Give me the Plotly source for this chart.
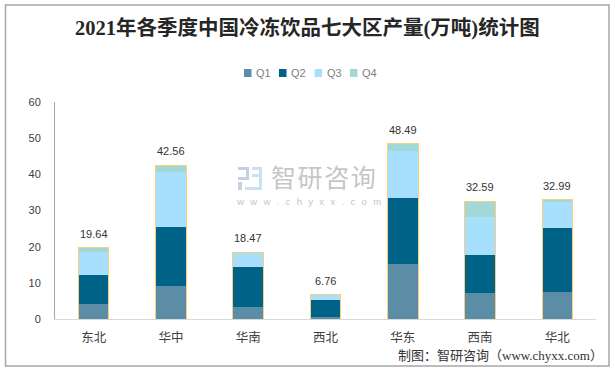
import plotly.graph_objects as go

categories = ["东北", "华中", "华南", "西北", "华东", "西南", "华北"]
q1 = [4.2, 9.2, 3.4, 0.65, 15.3, 7.27, 7.55]
q2 = [8.0, 16.3, 11.05, 4.7, 18.2, 10.5, 17.7]
q3 = [6.35, 15.2, 3.9, 1.35, 13.0, 10.5, 7.2]
q4 = [1.09, 1.86, 0.12, 0.06, 1.99, 4.32, 0.54]
totals = [19.64, 42.56, 18.47, 6.76, 48.49, 32.59, 32.99]
series_names = ["Q1", "Q2", "Q3", "Q4"]
series_colors = ["#5B8DA6", "#006287", "#A6E0FC", "#A2D9D6"]

W, H = 615, 371
L, R, T, B = 55, 596, 102, 319
CJK = "Noto Sans CJK SC"
TICK = "#404040"

fig = go.Figure()
for name, vals, col in zip(series_names, [q1, q2, q3, q4], series_colors):
    fig.add_bar(x=categories, y=vals, name=name, marker=dict(color=col, line_width=0),
                width=0.39, xaxis="x", yaxis="y", showlegend=False)
fig.add_bar(x=categories, y=totals, showlegend=False, width=0.395, xaxis="x", yaxis="y2",
            marker=dict(color="rgba(0,0,0,0)", line=dict(color="#F8CF7E", width=1)))

def px(x): return (x - L) / (R - L)
def py(y): return (B - y) / (B - T)

gap = "\u2002\u200a\u200a"
ann = [
    dict(text="<b>2021年各季度中国冷冻饮品七大区产量(万吨)统计图</b>", x=px(307.5), y=py(28),
         font=dict(family="Liberation Serif, " + CJK, size=20.5, color="#262626")),
    dict(text="智\u200a研\u200a咨\u200a询", x=px(323), y=py(176), font=dict(family=CJK, size=25, color="#C4C6C9")),
    dict(text=gap.join("www.chyxx.com"),
         x=px(308), y=py(201), font=dict(family="Liberation Sans", size=9.5, color="#C4C6C9")),
    dict(text="制图：智研咨询（www.chyxx.com）", x=px(605), y=py(355), xanchor="right",
         font=dict(family="Liberation Serif, " + CJK, size=13, color="#333333")),
]
legend_swatch_x = [244, 279, 314.5, 350]
for name, sx in zip(series_names, legend_swatch_x):
    ann.append(dict(text=name, x=px(sx + 10), y=py(73), xanchor="left",
                    font=dict(family="Liberation Sans", size=11, color="#7F7F7F")))
for a in ann:
    a.update(xref="paper", yref="paper", showarrow=False)
    a.setdefault("xanchor", "center")
    a.setdefault("yanchor", "middle")
for cat, tot in zip(categories, totals):
    ann.append(dict(text=f"{tot:.2f}", x=cat, y=tot, xref="x", yref="y", showarrow=False,
                    yshift=14, yanchor="middle", xanchor="center",
                    font=dict(family="Liberation Sans", size=11, color="#333333")))

def rect(x0, y0, x1, y1, color):
    return dict(type="rect", xref="paper", yref="paper", x0=px(x0), x1=px(x1), y0=py(y0), y1=py(y1),
                fillcolor=color, line_width=0, layer="below")

LOGO1, LOGO2 = "#C5D0E3", "#C9E2F3"
shapes = [
    dict(type="rect", xref="paper", yref="paper", x0=px(5.5), x1=px(609), y0=py(5), y1=py(366),
         line=dict(color="#A6A6A6", width=1.5), fillcolor="rgba(0,0,0,0)", layer="below"),
    rect(238, 167, 249, 170, LOGO1), rect(246, 167, 249, 180, LOGO1), rect(238, 177, 249, 180, LOGO1),
    rect(238, 182, 242, 190, LOGO1),
    rect(252, 167, 262, 170, LOGO2), rect(252, 174, 262, 177, LOGO2), rect(259, 167, 262, 190, LOGO2),
    rect(245, 187, 262, 190, LOGO2),
]
for col, sx in zip(series_colors, legend_swatch_x):
    shapes.append(rect(sx, 69, sx + 7.5, 77, col))

fig.update_layout(
    width=W, height=H, autosize=False, barmode="stack", bargap=0.6,
    paper_bgcolor="white", plot_bgcolor="rgba(0,0,0,0)",
    margin=dict(l=L, r=W - R, t=T, b=H - B, pad=0),
    showlegend=False,
    xaxis=dict(type="category", categoryorder="array", categoryarray=categories, showgrid=False,
               showline=True, linecolor="#D9D9D9", linewidth=1, ticks="", range=[-0.5, 6.5],
               tickfont=dict(family=CJK, size=12.5, color=TICK), ticklabelstandoff=7),
    yaxis=dict(range=[0, 60], dtick=10, showgrid=False, showline=True, linecolor="#A6A6A6",
               linewidth=1, ticks="", zeroline=False,
               tickfont=dict(family="Liberation Sans", size=11, color=TICK), ticklabelstandoff=11),
    yaxis2=dict(range=[0, 60], overlaying="y", visible=False),
    annotations=ann, shapes=shapes,
)
fig.write_html("out.html", post_script="document.body.style.margin='0';",
               config={"displayModeBar": False})
